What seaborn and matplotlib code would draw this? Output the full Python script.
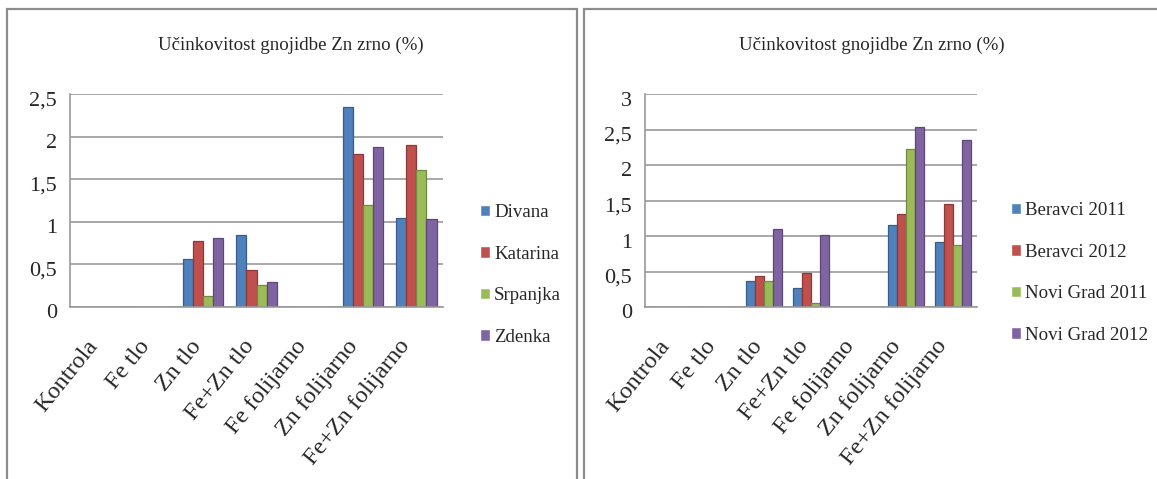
import matplotlib
matplotlib.use("Agg")
import matplotlib.pyplot as plt
import matplotlib.transforms as mtransforms
import seaborn as sns
import pandas as pd
from matplotlib.patches import Rectangle

categories = ["Kontrola", "Fe tlo", "Zn tlo", "Fe+Zn tlo", "Fe folijarno", "Zn folijarno", "Fe+Zn folijarno"]
title = "Učinkovitost gnojidbe Zn zrno (%)"

left_series = ["Divana", "Katarina", "Srpanjka", "Zdenka"]
divana = [0, 0, 0.56, 0.85, 0, 2.35, 1.05]
katarina = [0, 0, 0.78, 0.44, 0, 1.80, 1.90]
srpanjka = [0, 0, 0.13, 0.26, 0, 1.20, 1.61]
zdenka = [0, 0, 0.81, 0.29, 0, 1.88, 1.03]
left_ticks = [0, 0.5, 1, 1.5, 2, 2.5]
left_ticklabels = ["0", "0,5", "1", "1,5", "2", "2,5"]

right_series = ["Beravci 2011", "Beravci 2012", "Novi Grad 2011", "Novi Grad 2012"]
beravci_2011 = [0, 0, 0.36, 0.27, 0, 1.15, 0.92]
beravci_2012 = [0, 0, 0.44, 0.48, 0, 1.31, 1.45]
novi_grad_2011 = [0, 0, 0.36, 0.06, 0, 2.22, 0.87]
novi_grad_2012 = [0, 0, 1.10, 1.01, 0, 2.53, 2.35]
right_ticks = [0, 0.5, 1, 1.5, 2, 2.5, 3]
right_ticklabels = ["0", "0,5", "1", "1,5", "2", "2,5", "3"]

colors = ["#4F81BD", "#C0504D", "#9BBB59", "#8064A2"]
edge_colors = ["#385D8A", "#8C3836", "#71893F", "#5C4776"]

sns.set_theme(style="white")
plt.rcParams["font.family"] = ["Liberation Serif", "DejaVu Serif"]

W, H = 1157, 479
fig = plt.figure(figsize=(W / 100, H / 100), dpi=100)

# panel frames
fig.add_artist(Rectangle((7 / W, -0.05), (577 - 7) / W, 1 - 9 / H + 0.05,
                         transform=fig.transFigure, fill=False, edgecolor="#8c8c8c", lw=1.6))
fig.add_artist(Rectangle((584 / W, -0.05), (W + 20 - 584) / W, 1 - 9 / H + 0.05,
                         transform=fig.transFigure, fill=False, edgecolor="#8c8c8c", lw=1.6))


def make_df(series_names, values):
    rows = []
    for name, vals in zip(series_names, values):
        for c, v in zip(categories, vals):
            rows.append({"cat": c, "series": name, "val": v})
    return pd.DataFrame(rows)


def px(dx, dy):
    return mtransforms.ScaledTranslation(dx / 100, dy / 100, fig.dpi_scale_trans)


def draw(ax_rect, series_names, values, ticks, ticklabels, ymax, title_x, leg_x, leg_y):
    ax = fig.add_axes(ax_rect)
    df = make_df(series_names, values)
    sns.barplot(data=df, x="cat", y="val", hue="series", order=categories,
                hue_order=series_names, palette=colors, saturation=1, width=0.76,
                ax=ax, errorbar=None, legend=True)
    for i, cont in enumerate(ax.containers):
        for p in cont:
            p.set_edgecolor(edge_colors[i])
            p.set_linewidth(0.9)
    ax.set_ylim(0, ymax)
    ax.set_xlim(-0.5, len(categories) - 0.5)
    ax.set_yticks(ticks)
    ax.set_yticklabels([])
    ax.set_xticks(range(len(categories)))
    ax.set_xticklabels([])
    # value labels sit slightly lower than the gridlines (3D front plane)
    for t, lab in zip(ticks, ticklabels):
        ax.text(0, t, lab, transform=ax.get_yaxis_transform() + px(-13, -7),
                ha="right", va="center", fontsize=16)
    # category labels along the front edge of the floor
    for i, cat in enumerate(categories):
        ax.text(i, 0, cat, transform=ax.get_xaxis_transform() + px(-11 - 1.2 * i, -29),
                rotation=51, ha="right", va="top", rotation_mode="anchor", fontsize=17.5)
    ax.tick_params(axis="both", length=0)
    ax.set_xlabel("")
    ax.set_ylabel("")
    ax.yaxis.grid(True, color="#9a9a9a", lw=1.2)
    ax.set_axisbelow(True)
    for s in ["top", "right"]:
        ax.spines[s].set_visible(False)
    for s in ["left", "bottom"]:
        ax.spines[s].set_color("#9a9a9a")
        ax.spines[s].set_linewidth(1.2)
    ax.legend(loc="center left", bbox_to_anchor=(leg_x / W, 1 - leg_y / H),
              bbox_transform=fig.transFigure, frameon=False,
              fontsize=13.6, handlelength=0.55, handleheight=0.55, handletextpad=0.2,
              labelspacing=1.3, borderaxespad=0, borderpad=0)
    fig.text(title_x, 1 - 45 / H, title, ha="center", va="center", fontsize=13.6)
    return ax


draw([70 / W, 1 - 307 / H, (443 - 70) / W, (307 - 94) / H],
     left_series, [divana, katarina, srpanjka, zdenka],
     left_ticks, left_ticklabels, 2.5, 291 / W, 480, 275)

draw([645 / W, 1 - 307 / H, (977 - 645) / W, (307 - 94) / H],
     right_series, [beravci_2011, beravci_2012, novi_grad_2011, novi_grad_2012],
     right_ticks, right_ticklabels, 3, 872 / W, 1011, 273)

fig.savefig("out.png", dpi=100)
